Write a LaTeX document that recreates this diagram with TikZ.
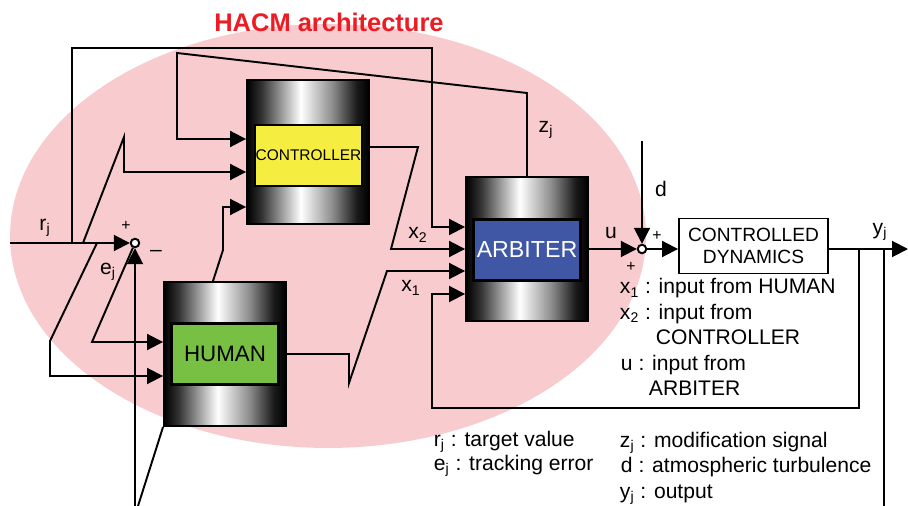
\documentclass[tikz,border=0pt]{standalone}
\usepackage{fontspec}
\setmainfont{Liberation Sans}
\usetikzlibrary{arrows.meta}

\definecolor{hacmpink}{RGB}{248,204,207}
\definecolor{hacmred}{RGB}{237,28,36}
\definecolor{ctrlyellow}{RGB}{245,238,64}
\definecolor{humangreen}{RGB}{119,192,67}
\definecolor{arbblue}{RGB}{64,87,165}

\pgfdeclarehorizontalshading{drumshade}{100bp}{color(0bp)=(black); color(25bp)=(black); color(31bp)=(black!80); color(47bp)=(white); color(60bp)=(black!45); color(70bp)=(black!90); color(75bp)=(black); color(100bp)=(black)}

\tikzset{
  drum/.style={draw, shade, shading=drumshade, minimum width=2.44cm, minimum height=2.88cm, inner sep=0pt},
  core/.style={draw, line width=1.4pt, minimum width=2.14cm, minimum height=1.22cm, inner sep=0pt},
  sumpt/.style={circle, draw, fill=white, minimum size=0.17cm, inner sep=0pt},
  sign/.style={font=\fontsize{9}{10}\selectfont},
  leg/.style={anchor=base west, inner sep=0pt},
}

\begin{document}
\begin{tikzpicture}[x=0.02cm, y=-0.02cm, >={Triangle[length=0.32cm, width=0.32cm]}, line width=1.1pt, every node/.style={font=\fontsize{12}{14}\selectfont}]
  \useasboundingbox (0,0) rectangle (908,506);
  \fill[hacmpink] (328,236) ellipse [x radius=6.36cm, y radius=4.24cm];
  \node[font=\bfseries\fontsize{14.5}{17}\selectfont, text=hacmred] (title) at (329,22) {HACM architecture};

  \node[drum] (ctrl) at (308,152) {};
  \node[core, fill=ctrlyellow, font=\fontsize{8.8}{10}\selectfont] (ctrlbox) at (308.5,155.5) {CONTROLLER};
  \node[drum] (hum) at (225,354) {};
  \node[core, fill=humangreen, font=\fontsize{12.7}{14}\selectfont] (humbox) at (225,354) {HUMAN};
  \node[drum] (arb) at (527,249) {};
  \node[core, fill=arbblue, text=white, font=\fontsize{13.2}{15}\selectfont] (arbbox) at (527,250) {ARBITER};
  \node[draw, fill=white, align=center, minimum width=2.98cm, minimum height=1.1cm, inner sep=0pt, font=\fontsize{10.9}{12.5}\selectfont] (dyn) at (753.5,246) {CONTROLLED\\DYNAMICS};

  \node[sumpt] (sum1) at (135,243) {};
  \node[sumpt] (sum2) at (642,249) {};

  \coordinate (rin) at (10,243);
  \coordinate (tapA) at (72,243);
  \coordinate (tapB) at (83,243);
  \coordinate (tapC) at (97,243);
  \coordinate (topR) at (432,48);
  \coordinate (b1) at (432,227);
  \coordinate (k1) at (124,137);
  \coordinate (k2) at (124,172);
  \coordinate (hl1) at (50,341);
  \coordinate (hl2) at (50,376);
  \coordinate (ej) at (92,342);
  \coordinate (fbL) at (135,506);
  \coordinate (fbH) at (138,506);
  \coordinate (h1) at (223,250);
  \coordinate (h2) at (223,207);
  \coordinate (x1a) at (349,354);
  \coordinate (x1b) at (349,383);
  \coordinate (x1c) at (387,271);
  \coordinate (x2a) at (418,147);
  \coordinate (x2b) at (391,249);
  \coordinate (z1) at (527,93);
  \coordinate (z2) at (177,53);
  \coordinate (z3) at (177,139);
  \coordinate (dtop) at (642,141);
  \coordinate (yout) at (908,249);
  \coordinate (tapY1) at (859,249);
  \coordinate (tapY2) at (884,249);
  \coordinate (q1) at (432,408);
  \coordinate (q2) at (432,294);
  \coordinate (yend) at (884,506);

  \draw[->] (rin) -- (sum1);
  \draw[->] (tapA) |- (topR) -- (b1) -- (b1 -| arb.west);
  \draw[->] (tapB) -- (k1) -- (k2) -- (k2 -| ctrl.west);
  \draw[->] (tapC) -- (hl1) -- (hl2) -- (hl2 -| hum.west);
  \draw[->] (sum1) -- (ej) -- (ej -| hum.west);
  \draw[->] (fbL) -- (sum1);
  \draw (fbH) -- (hum.south west);
  \draw[->] ([xshift=-0.24cm]hum.north) -- (h1) -- (h2) -- (h2 -| ctrl.west);
  \draw[->] (hum.east) -- (x1a) -- (x1b) -- (x1c) -- (x1c -| arb.west);
  \draw[->] (x2a -| ctrl.east) -- (x2a) -- (x2b) -- (x2b -| arb.west);
  \draw[->] (arb.north) -- (z1) -- (z2) -- (z3) -- (z3 -| ctrl.west);
  \draw[->] (arb.east) -- (sum2);
  \draw[->] (dtop) -- (sum2);
  \draw[->] (sum2) -- (sum2 -| dyn.west);
  \draw[->] (dyn.east |- yout) -- (yout);
  \draw[->] (tapY1) |- (q1) -- (q2) -- (q2 -| arb.west);
  \draw (tapY2) -- (yend);

  \node (rlbl) at (45,228) {r\textsubscript{j}};
  \node[sign] (p1) at (126,226) {+};
  \node (m1) at (156,253) {\textendash};
  \node (ejlbl) at (108,272) {e\textsubscript{j}};
  \node (x2lbl) at (418,235) {x\textsubscript{2}};
  \node (x1lbl) at (411,288) {x\textsubscript{1}};
  \node (zlbl) at (546,130) {z\textsubscript{j}};
  \node (ulbl) at (611,233) {u};
  \node (dlbl) at (661,189) {d};
  \node[sign] (p2) at (657,236) {+};
  \node[sign] (p3) at (631,267) {+};
  \node (ylbl) at (880,232) {y\textsubscript{j}};

  \node[leg] (lx1) at (619,294) {x\textsubscript{1} : input from HUMAN};
  \node[leg] (lx2) at (619,319) {x\textsubscript{2} : input from};
  \node[leg] (lx2b) at (655,344) {CONTROLLER};
  \node[leg] (lu) at (620,370) {u : input from};
  \node[leg] (lub) at (648,395) {ARBITER};
  \node[leg] (lr) at (433,446) {r\textsubscript{j} : target value};
  \node[leg] (le) at (433,470) {e\textsubscript{j} : tracking error};
  \node[leg] (lz) at (619,447) {z\textsubscript{j} : modification signal};
  \node[leg] (ld) at (620,472) {d : atmospheric turbulence};
  \node[leg] (ly) at (619,498) {y\textsubscript{j} : output};
\end{tikzpicture}
\end{document}
